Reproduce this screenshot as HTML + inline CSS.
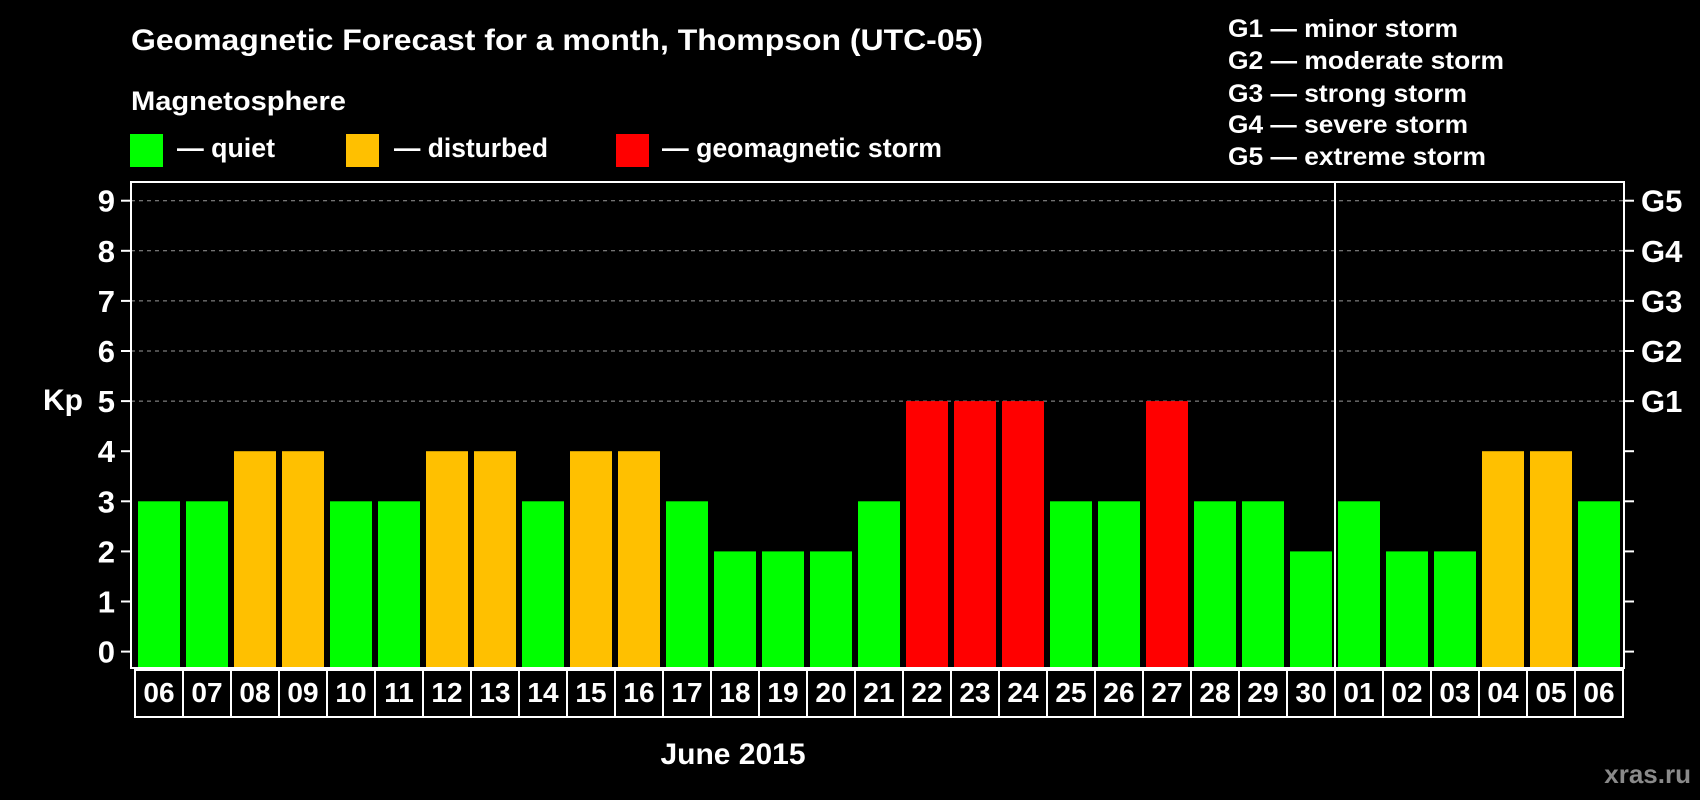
<!DOCTYPE html>
<html><head><meta charset="utf-8"><style>
html,body{margin:0;padding:0;background:#000;}
svg{display:block;font-family:"Liberation Sans",sans-serif;font-weight:bold;}
</style></head><body>
<svg id="chart" width="1700" height="800" viewBox="0 0 1700 800">
<text x="131" y="50" font-size="30" fill="#fff" textLength="852" lengthAdjust="spacingAndGlyphs">Geomagnetic Forecast for a month, Thompson (UTC-05)</text>
<text x="131" y="110" font-size="27" fill="#fff" textLength="215" lengthAdjust="spacingAndGlyphs">Magnetosphere</text>
<g><rect x="130" y="134" width="33" height="33" fill="#00ff00"/><text x="177" y="157" font-size="27" fill="#fff" textLength="98" lengthAdjust="spacingAndGlyphs">— quiet</text></g>
<g><rect x="346" y="134" width="33" height="33" fill="#ffc000"/><text x="394" y="157" font-size="27" fill="#fff" textLength="154" lengthAdjust="spacingAndGlyphs">— disturbed</text></g>
<g><rect x="616" y="134" width="33" height="33" fill="#ff0000"/><text x="662" y="157" font-size="27" fill="#fff" textLength="280" lengthAdjust="spacingAndGlyphs">— geomagnetic storm</text></g>
<g font-size="25" fill="#fff">
<text x="1228" y="37" textLength="230" lengthAdjust="spacingAndGlyphs">G1 — minor storm</text>
<text x="1228" y="69" textLength="276" lengthAdjust="spacingAndGlyphs">G2 — moderate storm</text>
<text x="1228" y="102" textLength="239" lengthAdjust="spacingAndGlyphs">G3 — strong storm</text>
<text x="1228" y="133" textLength="240" lengthAdjust="spacingAndGlyphs">G4 — severe storm</text>
<text x="1228" y="165" textLength="258" lengthAdjust="spacingAndGlyphs">G5 — extreme storm</text>
</g>
<text x="63" y="410" font-size="30" fill="#fff" text-anchor="middle">Kp</text>
<text x="733" y="764" font-size="30" fill="#fff" text-anchor="middle">June 2015</text>
<text x="1691" y="783" font-size="26" fill="#8a8a8a" text-anchor="end">xras.ru</text>
<g id="plot"></g>
</svg>
<script>
const days = ["06","07","08","09","10","11","12","13","14","15","16","17","18","19","20","21","22","23","24","25","26","27","28","29","30","01","02","03","04","05","06"];
const kp = [3,3,4,4,3,3,4,4,3,4,4,3,2,2,2,3,5,5,5,3,3,5,3,3,2,3,2,2,4,4,3];
const yTicks = [0,1,2,3,4,5,6,7,8,9];
const gLabels = ["G1","G2","G3","G4","G5"];
const monthBreak = 25;

const NS="http://www.w3.org/2000/svg";
const plot=document.getElementById('plot');
const L=131,R=1624,T=182,B=668,slot0=135,slotW=48,barW=42;
const y=v=>651.6-v*50.1;
const xs=i=>slot0+i*slotW;
function mk(tag,attrs){const e=document.createElementNS(NS,tag);for(const k in attrs)e.setAttribute(k,attrs[k]);plot.appendChild(e);return e;}
function color(v){return v>=5?"#ff0000":v>=4?"#ffc000":"#00ff00";}

yTicks.forEach(v=>{
  if(v>=5){const g=mk('line',{x1:L,x2:R,y1:y(v),y2:y(v),stroke:"#9a9a9a","stroke-width":1,"stroke-dasharray":"4,4"});
  
  }
  const t=mk('line',{x1:L-10,x2:L,y1:y(v),y2:y(v),stroke:"#fff","stroke-width":2});
  
  
  const t2=mk('line',{x1:R,x2:R+10,y1:y(v),y2:y(v),stroke:"#fff","stroke-width":2});
  
  
  const lb=mk('text',{x:115,y:y(v)+11,"font-size":31,fill:"#fff","text-anchor":"end"});
  lb.textContent=v;
  
  
});
gLabels.forEach((g,i)=>{
  const lb=mk('text',{x:1641,y:y(5+i)+11,"font-size":31,fill:"#fff"});
  lb.textContent=g;
  
  
});
kp.forEach((v,i)=>{
  const b=mk('rect',{x:xs(i)+3,y:y(v),width:barW,height:B-y(v),fill:color(v)});
  
  
});
const frame=mk('rect',{x:L,y:T,width:R-L,height:B-T,fill:"none",stroke:"#fff","stroke-width":2});


const mb=mk('line',{x1:xs(monthBreak),x2:xs(monthBreak),y1:T,y2:B,stroke:"#fff","stroke-width":2});


days.forEach((d,i)=>{
  const c=mk('rect',{x:xs(i),y:B+2,width:slotW,height:47,fill:"none",stroke:"#fff","stroke-width":2});
  
  
  const t=mk('text',{x:xs(i)+slotW/2,y:702,"font-size":28,fill:"#fff","text-anchor":"middle"});
  t.textContent=d;
  
  
});
</script>
</body></html>
